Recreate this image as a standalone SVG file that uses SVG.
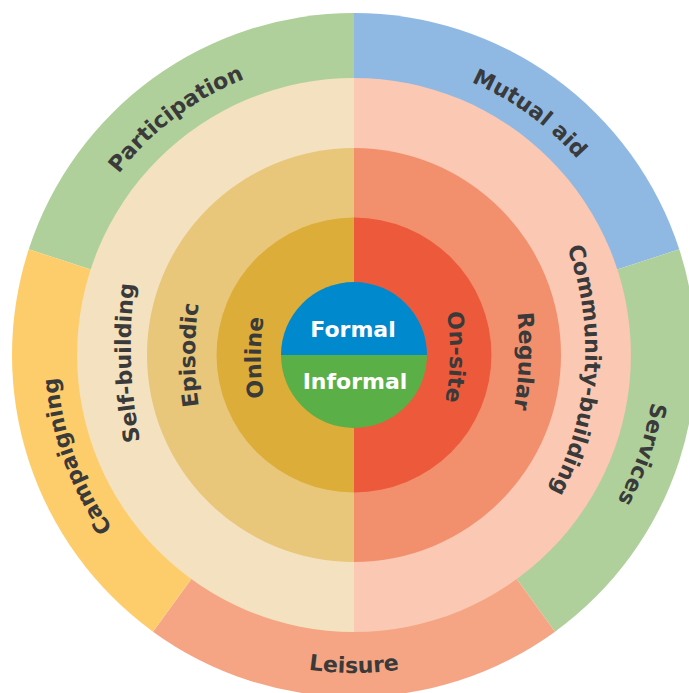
<svg xmlns="http://www.w3.org/2000/svg" xmlns:xlink="http://www.w3.org/1999/xlink" width="689" height="693" viewBox="0 0 689 693">
<style>
.lbl{font-family:"DejaVu Sans","Liberation Sans",sans-serif;font-weight:700;font-size:22px;fill:#3a3a3a}
.ctr{font-family:"DejaVu Sans","Liberation Sans",sans-serif;font-weight:700;font-size:22px;fill:#ffffff;text-anchor:middle}
</style>
<defs>
<path id="pParticipation" d="M80.61,238.95 A297,297 0 0 1 317.80,60.21"/>
<path id="pMutual" d="M385.05,59.63 A297,297 0 0 1 625.32,234.20"/>
<path id="pServices" d="M649.47,297.57 A301,301 0 0 1 551.47,582.17"/>
<path id="pLeisure" d="M219.61,643.21 A318,318 0 0 0 488.39,643.21"/>
<path id="pCampaigning" d="M163.09,582.51 A297,297 0 0 1 61.51,303.43"/>
<path id="pSelf" d="M150.21,483.15 A500,500 0 0 1 141.76,241.37"/>
<path id="pCommunity" d="M559.24,228.16 A300,300 0 0 1 539.59,509.16"/>
<path id="pEpisodic" d="M202.65,427.77 A350,350 0 0 1 202.65,282.23"/>
<path id="pRegular" d="M513.91,288.05 A350,350 0 0 1 508.57,433.50"/>
<path id="pOnline" d="M266.16,409.48 A250,250 0 0 1 266.16,305.52"/>
<path id="pOnsite" d="M445.60,304.92 A250,250 0 0 1 443.43,408.86"/>
</defs>
<rect width="689" height="693" fill="#ffffff"/>

<g id="participation">
<path d="M354,355 L28.74,249.32 A342,342 0 0 1 354,13 Z" fill="#b0d09b"/>
<text class="lbl"><textPath xlink:href="#pParticipation" href="#pParticipation" startOffset="50%" text-anchor="middle">Participation</textPath></text>
</g>
<g id="mutual-aid">
<path d="M354,355 L354,13 A342,342 0 0 1 679.26,249.32 Z" fill="#8fb9e3"/>
<text class="lbl"><textPath xlink:href="#pMutual" href="#pMutual" startOffset="50%" text-anchor="middle">Mutual aid</textPath></text>
</g>
<g id="services">
<path d="M354,355 L679.26,249.32 A342,342 0 0 1 555.02,631.68 Z" fill="#b0d09b"/>
<text class="lbl"><textPath xlink:href="#pServices" href="#pServices" startOffset="50%" text-anchor="middle">Services</textPath></text>
</g>
<g id="leisure">
<path d="M354,355 L555.02,631.68 A342,342 0 0 1 152.98,631.68 Z" fill="#f5a584"/>
<text class="lbl"><textPath xlink:href="#pLeisure" href="#pLeisure" startOffset="50%" text-anchor="middle">Leisure</textPath></text>
</g>
<g id="campaigning">
<path d="M354,355 L152.98,631.68 A342,342 0 0 1 28.74,249.32 Z" fill="#fecd6b"/>
<text class="lbl"><textPath xlink:href="#pCampaigning" href="#pCampaigning" startOffset="50%" text-anchor="middle">Campaigning</textPath></text>
</g>

<g id="self-building">
<path d="M354,78 A277,277 0 0 0 354,632 Z" fill="#f4e1bf"/>
<text class="lbl"><textPath xlink:href="#pSelf" href="#pSelf" startOffset="50%" text-anchor="middle">Self-building</textPath></text>
</g>
<g id="community-building">
<path d="M354,78 A277,277 0 0 1 354,632 Z" fill="#fac8b3"/>
<text class="lbl"><textPath xlink:href="#pCommunity" href="#pCommunity" startOffset="50%" text-anchor="middle">Community-building</textPath></text>
</g>

<g id="episodic">
<path d="M354,148 A207,207 0 0 0 354,562 Z" fill="#e8c67a"/>
<text class="lbl"><textPath xlink:href="#pEpisodic" href="#pEpisodic" startOffset="50%" text-anchor="middle">Episodic</textPath></text>
</g>
<g id="regular">
<path d="M354,148 A207,207 0 0 1 354,562 Z" fill="#f2906e"/>
<text class="lbl"><textPath xlink:href="#pRegular" href="#pRegular" startOffset="50%" text-anchor="middle">Regular</textPath></text>
</g>

<g id="online">
<path d="M354,217.5 A137.5,137.5 0 0 0 354,492.5 Z" fill="#ddad3a"/>
<text class="lbl"><textPath xlink:href="#pOnline" href="#pOnline" startOffset="50%" text-anchor="middle">Online</textPath></text>
</g>
<g id="on-site">
<path d="M354,217.5 A137.5,137.5 0 0 1 354,492.5 Z" fill="#ec5a3b"/>
<text class="lbl"><textPath xlink:href="#pOnsite" href="#pOnsite" startOffset="50%" text-anchor="middle">On-site</textPath></text>
</g>

<g id="formal">
<path d="M281,355 A73,73 0 0 1 427,355 Z" fill="#0089cd"/>
<text class="ctr" x="353" y="337">Formal</text>
</g>
<g id="informal">
<path d="M281,355 A73,73 0 0 0 427,355 Z" fill="#5baf47"/>
<text class="ctr" x="355" y="389">Informal</text>
</g>

<g id="connectors"/>
</svg>
